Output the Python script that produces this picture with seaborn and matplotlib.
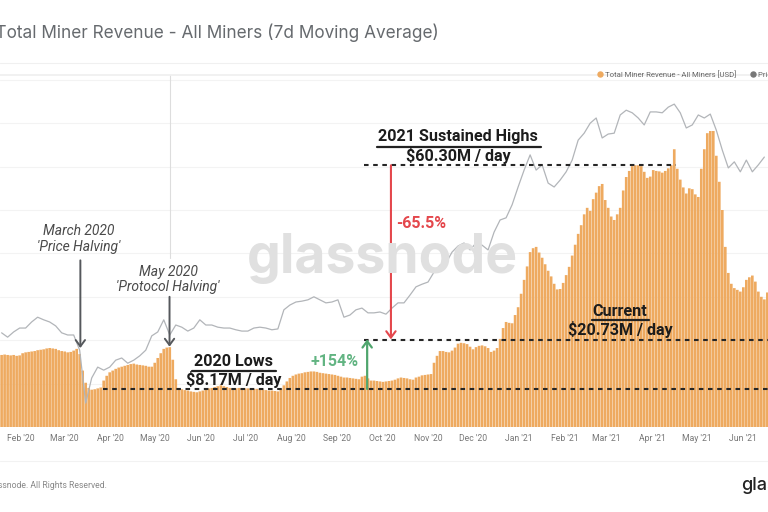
import matplotlib
matplotlib.use("Agg")
import matplotlib.pyplot as plt
import matplotlib.dates as mdates
from matplotlib.lines import Line2D
import numpy as np
import pandas as pd
import seaborn as sns

# Revenue in $M, one bar roughly every 2 days starting 2020-01-19
revenue = [
    16.6, 16.7, 16.6, 16.5, 16.6, 16.4, 16.5, 17.0, 17.2, 17.3,
    17.4, 17.5, 17.7, 17.8, 17.9, 18.1, 18.2, 18.1, 18.0, 17.7,
    17.5, 17.4, 17.2, 17.3, 17.6, 18.0, 16.8, 13.0, 10.2, 9.0,
    8.6, 8.7, 8.9, 9.1, 10.7, 11.8, 12.6, 13.0, 13.4, 13.7,
    13.9, 14.1, 14.3, 14.5, 14.6, 14.4, 14.3, 14.2, 14.1, 13.9,
    13.9, 14.8, 15.9, 17.0, 18.0, 18.3, 18.4, 15.5, 11.0, 9.0,
    8.7, 8.5, 8.4, 8.2, 8.1, 8.0, 8.2, 8.4, 8.6, 8.9,
    9.0, 9.2, 9.4, 9.6, 9.4, 9.2, 9.0, 8.9, 8.9, 9.0,
    8.9, 8.9, 8.9, 8.8, 8.8, 8.8, 8.7, 8.6, 8.5, 8.4,
    8.4, 8.3, 8.2, 8.8, 9.6, 10.5, 11.3, 11.8, 12.1, 12.3,
    12.4, 12.6, 12.7, 12.8, 12.8, 12.7, 12.5, 12.4, 12.3, 12.2,
    12.1, 12.0, 11.8, 11.6, 11.4, 11.4, 11.3, 11.2, 11.1, 11.0,
    11.6, 11.8, 11.2, 10.7, 10.7, 10.6, 10.5, 10.4, 10.5, 10.6,
    10.7, 10.9, 11.2, 11.4, 11.3, 11.2, 11.0, 10.9, 11.4, 11.6,
    11.9, 12.0, 12.1, 12.2, 14.8, 16.4, 17.5, 17.5, 17.3, 17.2,
    17.6, 18.3, 19.2, 19.4, 19.3, 19.1, 18.5, 17.9, 18.4, 18.7,
    18.8, 18.6, 18.2, 17.3, 17.6, 18.2, 20.3, 22.8, 24.2, 24.0,
    23.9, 25.8, 27.6, 30.7, 33.9, 37.0, 40.3, 41.2, 41.5, 40.2,
    39.0, 37.5, 36.0, 34.7, 33.0, 31.7, 31.8, 33.2, 35.0, 36.9,
    39.5, 42.0, 44.5, 46.5, 49.0, 50.5, 49.8, 52.5, 54.0, 55.5,
    56.0, 52.3, 50.5, 48.5, 47.7, 49.0, 50.5, 54.5, 57.6, 59.0,
    60.1, 60.3, 60.3, 60.1, 58.8, 57.4, 57.7, 59.2, 59.0, 58.9,
    58.6, 59.0, 59.6, 60.3, 64.0, 59.5, 57.0, 55.2, 53.8, 55.0,
    54.8, 53.6, 53.0, 59.5, 64.0, 67.7, 68.2, 68.2, 62.5, 56.5,
    50.0, 41.5, 35.5, 33.0, 32.0, 31.6, 31.2, 32.2, 33.9, 34.5,
    34.9, 33.5, 31.2, 30.0, 29.4, 31.0,
]

# Price line, one point for every second bar, given in chart height units like the bars
price = [
    21.7, 20.7, 21.9, 22.8, 22.8, 24.2, 25.3, 24.7, 24.2, 23.3,
    21.7, 21.2, 21.2, 17.7, 5.5, 11.3, 13.8, 13.1, 13.8, 15.4,
    15.9, 14.7, 15.4, 16.4, 17.7, 21.0, 21.9, 24.7, 21.2, 23.5,
    23.0, 22.1, 22.8, 24.7, 23.5, 23.5, 23.0, 22.8, 22.8, 22.4,
    22.1, 22.1, 22.8, 23.0, 22.8, 22.4, 22.6, 27.0, 28.1, 28.8,
    29.0, 29.3, 30.0, 29.3, 28.6, 28.8, 29.3, 25.3, 25.8, 27.0,
    27.4, 26.3, 26.3, 26.5, 26.0, 27.4, 28.6, 28.6, 30.4, 32.3,
    32.9, 33.4, 35.7, 37.3, 37.8, 40.3, 41.7, 42.4, 40.8, 42.4,
    41.9, 40.8, 44.9, 47.7, 48.2, 51.2, 55.3, 59.2, 62.7, 59.2,
    60.4, 56.2, 55.3, 56.9, 58.8, 61.5, 66.1, 67.7, 70.0, 71.2,
    66.6, 67.5, 67.7, 71.9, 73.0, 72.4, 71.2, 69.6, 72.6, 72.6,
    72.4, 73.7, 74.4, 72.4, 68.9, 69.6, 71.9, 71.2, 72.1, 68.4,
    63.8, 59.7, 61.1, 58.8, 61.5, 58.8, 60.4, 62.2,
]

month_starts = pd.date_range("2020-02-01", "2021-06-01", freq="MS")
month_labels = [d.strftime("%b '%y") for d in month_starts]

low_level = 8.75
current_level = 20.0
high_level = 60.3

sns.set_theme(style="white")
plt.rcParams["font.family"] = ["Roboto", "DejaVu Sans"]

W, H = 768, 512
fig = plt.figure(figsize=(W / 100, H / 100), dpi=100)
ax = fig.add_axes([0, (H - 427) / H, 1, (427 - 75) / H])

# 2910 min is a shade over 2 days, the bars then fill the whole width
bar_dates = pd.date_range("2020-01-19", periods=len(revenue), freq="2910min")
bar_x = mdates.date2num(bar_dates)
price_x = bar_x[::2]

# watermark sits behind everything
fig.text(382 / W, 1 - 258 / H, "glassnode", ha="center", va="center", fontsize=38.5,
         color="#e0e0e0", family=["Inter", "DejaVu Sans"], fontweight="bold", zorder=0)
ax.patch.set_alpha(0)

sns.barplot(x=bar_x, y=revenue, native_scale=True, width=0.88, color="#eeaa60",
            saturation=1, linewidth=0, ax=ax, zorder=2)
# keep the thin bars evenly spaced instead of snapping to whole pixels
for bar in ax.patches:
    bar.set_snap(False)
sns.lineplot(x=price_x, y=price, color="#b2b5b9", linewidth=0.9, ax=ax, zorder=3)


def day(date_str):
    return mdates.date2num(pd.Timestamp(date_str))


x_left = day("2020-01-17 22:00")
x_right = day("2021-06-17 18:00")
ax.set_xlim(x_left, x_right)
ax.set_ylim(0, 352 / 4.34)
ax.set_yticks(np.arange(10, 81, 10))
ax.set_yticklabels([])
ax.yaxis.grid(True, color="#f3f3f3", linewidth=0.8)
ax.set_axisbelow(True)
ax.set_xticks(mdates.date2num(month_starts))
ax.set_xticklabels(month_labels, fontsize=6.2, color="#777777")
ax.tick_params(axis="x", length=0, pad=5)
ax.tick_params(axis="y", length=0)
ax.set_xlabel("")
ax.set_ylabel("")
for side in ["left", "right", "bottom"]:
    ax.spines[side].set_visible(False)
ax.spines["top"].set_color("#f0f0f0")

# halving marker
halving = day("2020-05-11")
ax.plot([halving, halving], [39, 81.1], color="#dddddd", linewidth=0.8, zorder=1)

# dashed levels
dash = dict(color="#262626", linewidth=1.5, linestyle=(0, (2.2, 2.2)), zorder=5)
ax.plot([day("2020-03-27"), x_right], [low_level, low_level], **dash)
ax.plot([day("2020-09-19"), x_right], [current_level, current_level], **dash)
ax.plot([day("2020-09-19"), day("2021-04-17")], [high_level, high_level], **dash)


def arrow(x, y_from, y_to, color, lw=1.4):
    ax.annotate("", xy=(x, y_to), xytext=(x, y_from), zorder=6,
                arrowprops=dict(arrowstyle="->,head_width=0.28,head_length=0.38",
                                color=color, linewidth=lw, shrinkA=0, shrinkB=0))


arrow(day("2020-03-12"), 38.4, 18.2, "#55585c")
arrow(day("2020-05-11"), 30.0, 18.5, "#55585c")
arrow(day("2020-09-21"), low_level, 20.2, "#4fa56d", lw=1.6)
arrow(day("2020-10-07"), high_level, 20.2, "#e4474c", lw=1.5)


def label(x, y, text, **kw):
    kw.setdefault("ha", "center")
    kw.setdefault("va", "center")
    return fig.text(x / W, 1 - y / H, text, zorder=8, **kw)


def rule(x0, x1, y, color="#222222", lw=1.6):
    fig.add_artist(Line2D([x0 / W, x1 / W], [1 - y / H, 1 - y / H], color=color,
                          linewidth=lw, zorder=8))


# halving notes
note = dict(fontsize=10, fontstyle="italic", color="#4a4a4a")
label(79, 231, "March 2020", **note)
label(79, 247, "'Price Halving'", **note)
label(168, 272, "May 2020", **note)
label(168, 287, "'Protocol Halving'", **note)

# level captions
bold = dict(fontsize=11.6, fontweight="bold", color="#1c1c1c")
label(234, 361, "2020 Lows", **bold)
rule(192, 276, 371)
label(234, 380, "$8.17M / day", **bold)
label(458, 137, "2021 Sustained Highs", **bold)
rule(377, 541, 147)
label(458, 156, "$60.30M / day", **bold)
label(620, 311, "Current", **bold)
rule(592, 649, 320)
label(620, 329, "$20.73M / day", **bold)

label(335, 361, "+154%", fontsize=11.5, fontweight="bold", color="#62b482")
label(421, 223, "-65.5%", fontsize=11.5, fontweight="bold", color="#e4474c")

# header
label(439, 33, "Bitcoin: Total Miner Revenue - All Miners (7d Moving Average)", ha="right",
      fontsize=12.4, color="#666a6e", family=["Inter", "DejaVu Sans"])
fig.add_artist(Line2D([0, 1], [1 - 63 / H, 1 - 63 / H], color="#f0f0f0", linewidth=0.8))

# legend
fig.add_artist(Line2D([600 / W], [1 - 74 / H], marker="o", markersize=3.6, color="#eeaa60",
                      linestyle=""))
label(605, 74, "Total Miner Revenue - All Miners [USD]", ha="left", fontsize=5.6, color="#666666")
fig.add_artist(Line2D([753 / W], [1 - 74 / H], marker="o", markersize=3.6, color="#777777",
                      linestyle=""))
label(758, 74, "Price [USD]", ha="left", fontsize=5.6, color="#666666")

# footer
fig.add_artist(Line2D([0, 1], [1 - 461 / H, 1 - 461 / H], color="#f2f2f2", linewidth=0.8))
label(107, 485, "© 2021 Glassnode. All Rights Reserved.", ha="right", fontsize=6.2, color="#888888")
label(741, 486, "glassnode", ha="left", fontsize=13, color="#222222",
      family=["Inter", "DejaVu Sans"], fontweight="medium")

fig.savefig("out.png", dpi=100)
